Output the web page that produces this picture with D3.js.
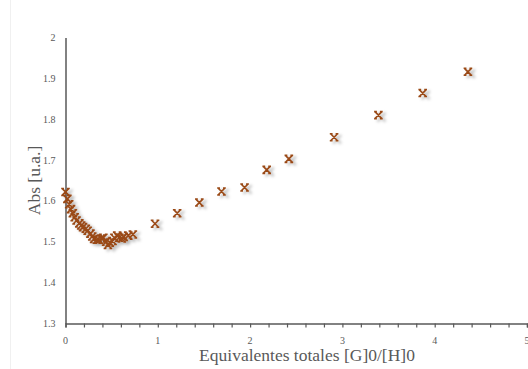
<!DOCTYPE html>
<html lang="en">
<head>
    <meta charset="UTF-8">
    <title>Abs vs equivalentes</title>
    <script src="https://d3js.org/d3.v7.min.js"></script>
    <style>
        body {
            margin: 0;
            background: #fff;
        }
        .tick-label {
            font-family: 'Liberation Serif', 'DejaVu Serif', serif;
            font-size: 10px;
            fill: #595959;
        }
        .axis-title {
            font-family: 'Liberation Serif', 'DejaVu Serif', serif;
            font-size: 17.5px;
            fill: #595959;
        }
    </style>
</head>
<body>
    <div id="chart"></div>

    <script>
        // Data
        const eqX = [0, 0.02, 0.04, 0.06, 0.08, 0.10, 0.12, 0.15, 0.17, 0.19,
                     0.22, 0.24, 0.27, 0.29, 0.31, 0.34, 0.36, 0.39, 0.41, 0.44,
                     0.46, 0.48, 0.51, 0.53, 0.56, 0.58, 0.61, 0.63, 0.68, 0.73,
                     0.97, 1.21, 1.45, 1.69, 1.94, 2.18, 2.42, 2.91, 3.39, 3.87, 4.36];
        const absY = [1.622, 1.605, 1.592, 1.580, 1.570, 1.560, 1.552, 1.545, 1.540, 1.536,
                      1.532, 1.527, 1.520, 1.513, 1.507, 1.505, 1.505, 1.508, 1.510, 1.500,
                      1.492, 1.498, 1.502, 1.510, 1.515, 1.510, 1.508, 1.512, 1.515, 1.518,
                      1.544, 1.570, 1.596, 1.623, 1.633, 1.676, 1.703, 1.756, 1.810, 1.864, 1.916];
        const xTicks = [0, 1, 2, 3, 4, 5];
        const yTicks = [1.3, 1.4, 1.5, 1.6, 1.7, 1.8, 1.9, 2];

        const W = 528, H = 369;
        const margin = { left: 65.5, right: 0, top: 37.5, bottom: 46.5 };

        const svg = d3.select('#chart').append('svg')
            .attr('width', W)
            .attr('height', H);

        // faint chart border line on the left
        svg.append('line')
            .attr('x1', 10.5).attr('x2', 10.5)
            .attr('y1', 0).attr('y2', H)
            .attr('stroke', '#f0f0f0');

        const x = d3.scaleLinear().domain([0, 5]).range([margin.left, margin.left + 5 * 92.3]);
        const y = d3.scaleLinear().domain([1.3, 2]).range([H - margin.bottom + 1, margin.top]);

        const axisColor = '#595959';

        // x axis
        const xAxis = svg.append('g')
            .attr('transform', `translate(0,${y(1.3)})`)
            .call(d3.axisBottom(x).tickValues(d3.range(0, 5.01, 0.2)).tickSize(4).tickFormat(''));
        xAxis.select('.domain').attr('stroke', axisColor).attr('stroke-width', 1.5);
        xAxis.selectAll('.tick line').attr('stroke', axisColor).attr('stroke-width', 1.2);

        svg.selectAll('.xlab')
            .data(xTicks)
            .enter().append('text')
            .attr('class', 'tick-label')
            .attr('x', d => x(d))
            .attr('y', y(1.3) + 20)
            .attr('text-anchor', 'middle')
            .text(d => d);

        // y axis
        const yAxis = svg.append('g')
            .attr('transform', `translate(${x(0)},0)`)
            .call(d3.axisLeft(y).tickValues(yTicks).tickSize(0).tickFormat(''));
        yAxis.select('.domain').attr('stroke', axisColor).attr('stroke-width', 1.5);

        svg.selectAll('.ylab')
            .data(yTicks)
            .enter().append('text')
            .attr('class', 'tick-label')
            .attr('x', x(0) - 10)
            .attr('y', d => y(d))
            .attr('dy', '0.35em')
            .attr('text-anchor', 'end')
            .text(d => d);

        // axis titles
        svg.append('text')
            .attr('class', 'axis-title')
            .attr('x', 307)
            .attr('y', 361)
            .attr('text-anchor', 'middle')
            .text('Equivalentes totales [G]0/[H]0');

        svg.append('text')
            .attr('class', 'axis-title')
            .attr('transform', `translate(40,${y(1.65)}) rotate(-90)`)
            .attr('text-anchor', 'middle')
            .text('Abs [u.a.]');

        // marker shadow
        const defs = svg.append('defs');
        const f = defs.append('filter').attr('id', 'shadow')
            .attr('x', '-100%').attr('y', '-100%').attr('width', '300%').attr('height', '300%');
        f.append('feDropShadow')
            .attr('dx', 3).attr('dy', 2)
            .attr('stdDeviation', 1.8)
            .attr('flood-color', '#000')
            .attr('flood-opacity', 0.3);

        // x marker with short caps top and bottom
        const s = 3.5;
        const markerPath = `M${-s},${-s}L${s},${s}M${s},${-s}L${-s},${s}` +
            `M${-s - 0.8},${-s}L${-s + 2},${-s}M${s - 2},${-s}L${s + 0.8},${-s}` +
            `M${-s - 0.8},${s}L${-s + 2},${s}M${s - 2},${s}L${s + 0.8},${s}`;

        const pts = eqX.map((v, i) => ({ x: v, y: absY[i] }));

        svg.append('g')
            .attr('filter', 'url(#shadow)')
            .selectAll('path')
            .data(pts)
            .enter().append('path')
            .attr('transform', d => `translate(${x(d.x)},${y(d.y)})`)
            .attr('d', markerPath)
            .attr('fill', 'none')
            .attr('stroke', '#9a4a18')
            .attr('stroke-width', 1.6);
    </script>
</body>
</html>
